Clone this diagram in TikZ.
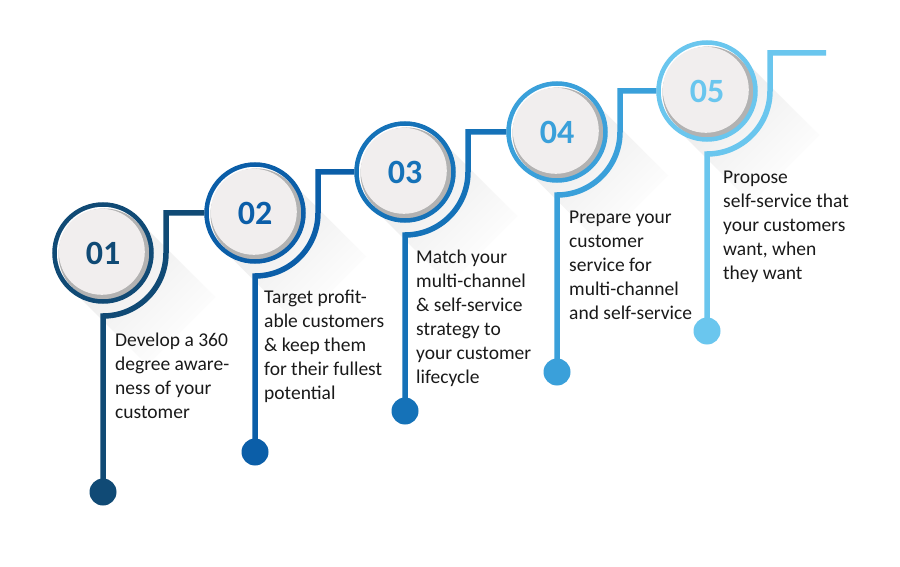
\documentclass[tikz,border=0pt]{standalone}
\usepackage{fontspec}
\setmainfont{Carlito}
\usepackage{tikz}
\usetikzlibrary{positioning, calc}
\definecolor{stepone}{RGB}{16,74,117}
\definecolor{steptwo}{RGB}{11,94,168}
\definecolor{stepthree}{RGB}{21,114,184}
\definecolor{stepfour}{RGB}{58,160,218}
\definecolor{stepfive}{RGB}{106,198,238}
\definecolor{face}{RGB}{241,238,238}
\definecolor{ink}{RGB}{26,26,26}

\begin{document}
\begin{tikzpicture}[
            x=1pt, y=1pt,
            stage/.style={circle, draw, line width=4.5pt, minimum size=97pt, inner sep=0pt, fill=white,
                font=\fontsize{34}{34}\selectfont\bfseries,
                path picture={
                    \fill[gray!60] ([shift={(1.5pt,-1.5pt)}]path picture bounding box.center) circle (46pt);
                    \fill[face] ([shift={(-1.2pt,1.2pt)}]path picture bounding box.center) circle (43pt);
                }},
            pin/.style={circle, minimum size=27pt, inner sep=0pt},
            track/.style={line width=5.5pt},
            longshadow/.style={top color=black!9, bottom color=white, shading angle=45},
            desc/.style={anchor=base west, align=left, inner sep=0pt, text=ink,
                font=\fontsize{19.5}{24}\selectfont}
        ]
            \fill[white] (0,0) rectangle (900,566);

            % long shadows behind the stages
            \foreach \i in {1,...,5}
                \shade[longshadow] ({103+151*(\i-1)+34}, {313+40.5*(\i-1)+34})
                    -- ++(78,-78) -- ++(-68,-68) -- ++(-78,78) -- cycle;

            \node[stage, draw=stepone, text=stepone] (c1) at (103,313) {01};
            \node[stage, draw=steptwo, text=steptwo] (c2) at (255,353) {02};
            \node[stage, draw=stepthree, text=stepthree] (c3) at (405,394) {03};
            \node[stage, draw=stepfour, text=stepfour] (c4) at (557,434) {04};
            \node[stage, draw=stepfive, text=stepfive] (c5) at (707,475) {05};
            \coordinate (tail) at (826,513);

            \node[pin, fill=stepone] (d1) at (103,74) {};
            \node[pin, fill=steptwo] (d2) at (255,114) {};
            \node[pin, fill=stepthree] (d3) at (405,155) {};
            \node[pin, fill=stepfour] (d4) at (557,194) {};
            \node[pin, fill=stepfive] (d5) at (707,235) {};

            \draw[track, stepone] (d1.center) -- ($(c1)+(0,-63)$) arc[start angle=270, end angle=360, radius=63] |- (c2.west);
            \draw[track, steptwo] (d2.center) -- ($(c2)+(0,-63)$) arc[start angle=270, end angle=360, radius=63] |- (c3.west);
            \draw[track, stepthree] (d3.center) -- ($(c3)+(0,-63)$) arc[start angle=270, end angle=360, radius=63] |- (c4.west);
            \draw[track, stepfour] (d4.center) -- ($(c4)+(0,-63)$) arc[start angle=270, end angle=360, radius=63] |- (c5.west);
            \draw[track, stepfive] (d5.center) -- ($(c5)+(0,-63)$) arc[start angle=270, end angle=360, radius=63] |- (tail);

            % base of a wrapped node sits on its last line
            \node[desc] (t1) at (115,148) {Develop a 360\\degree aware-\\ness of your\\customer};
            \node[desc] (t2) at (264,167) {Target profit-\\able customers\\\& keep them\\for their fullest\\potential};
            \node[desc] (t3) at (416,183) {Match your\\multi-channel\\\& self-service\\strategy to\\your customer\\lifecycle};
            \node[desc] (t4) at (569,247) {Prepare your\\customer\\service for\\multi-channel\\and self-service};
            \node[desc] (t5) at (723,287) {Propose\\self-service that\\your customers\\want, when\\they want};
        \end{tikzpicture}
\end{document}
